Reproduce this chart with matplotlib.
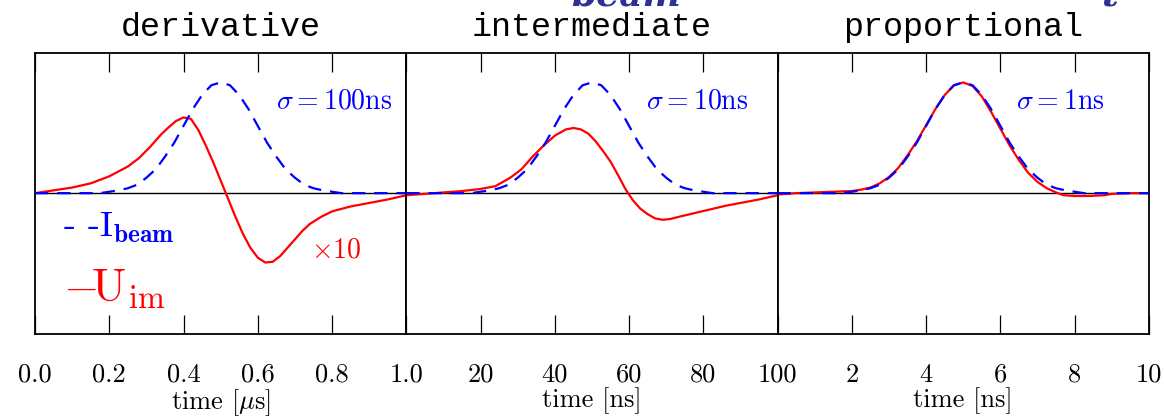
import matplotlib.pyplot as plt

plt.rcParams['mathtext.fontset'] = 'cm'
plt.rcParams['font.family'] = ['cmr10', 'DejaVu Serif']
plt.rcParams['axes.unicode_minus'] = False

# beam current, same shape in every window (time as fraction of window)
beam_frac = [0.0, 0.025, 0.05, 0.075, 0.1, 0.125, 0.15, 0.175, 0.2, 0.225,
             0.25, 0.275, 0.3, 0.325, 0.35, 0.375, 0.4, 0.425, 0.45, 0.475,
             0.5, 0.525, 0.55, 0.575, 0.6, 0.625, 0.65, 0.675, 0.7, 0.725,
             0.75, 0.775, 0.8, 0.825, 0.85, 0.875, 0.9, 0.925, 0.95, 0.975, 1.0]
beam_i = [0, 0, 0, 0, 0, 0, 0, 0, 0.01, 0.02,
          0.035, 0.06, 0.11, 0.17, 0.26, 0.36, 0.48, 0.60, 0.70, 0.77,
          0.79, 0.77, 0.70, 0.60, 0.48, 0.36, 0.26, 0.17, 0.11, 0.06,
          0.035, 0.02, 0.01, 0, 0, 0, 0, 0, 0, 0, 0]

# image-current monitor voltage, sigma = 100 ns (x10), time in us
u1_t = [0.00, 0.05, 0.10, 0.15, 0.20, 0.25, 0.28, 0.31, 0.34, 0.36, 0.38, 0.40,
        0.42, 0.44, 0.46, 0.48, 0.50, 0.52, 0.54, 0.56, 0.58, 0.60, 0.62, 0.64,
        0.66, 0.68, 0.70, 0.72, 0.74, 0.77, 0.80, 0.85, 0.90, 0.95, 1.00]
u1 = [0.00, 0.02, 0.04, 0.07, 0.12, 0.19, 0.25, 0.33, 0.42, 0.47, 0.515, 0.54,
      0.53, 0.45, 0.34, 0.22, 0.09, -0.04, -0.17, -0.29, -0.39, -0.46, -0.495, -0.49,
      -0.45, -0.39, -0.33, -0.27, -0.22, -0.17, -0.13, -0.095, -0.07, -0.045, -0.015]

# sigma = 10 ns, time in ns
u2_t = [0, 5, 10, 15, 20, 24, 28, 31, 34, 37, 40, 43, 45, 47, 49, 51, 53, 55,
        57, 59, 61, 63, 65, 67, 69, 71, 74, 78, 82, 86, 90, 95, 100]
u2 = [-0.015, -0.005, 0.005, 0.015, 0.03, 0.05, 0.11, 0.17, 0.26, 0.34, 0.41, 0.455,
      0.465, 0.455, 0.425, 0.37, 0.30, 0.225, 0.13, 0.03, -0.05, -0.11, -0.15, -0.18,
      -0.19, -0.185, -0.165, -0.14, -0.115, -0.09, -0.07, -0.045, -0.015]

# sigma = 1 ns, time in ns
u3_t = [0, 0.5, 1, 1.5, 2, 2.25, 2.5, 2.75, 3, 3.25, 3.5, 3.75, 4, 4.25, 4.5,
        4.75, 5, 5.25, 5.5, 5.75, 6, 6.25, 6.5, 6.75, 7, 7.25, 7.5, 7.7, 8,
        8.4, 8.8, 9, 9.5, 10]
u3 = [-0.01, 0.0, 0.005, 0.01, 0.015, 0.025, 0.04, 0.07, 0.115, 0.18, 0.27, 0.37,
      0.485, 0.60, 0.70, 0.77, 0.79, 0.765, 0.69, 0.58, 0.46, 0.34, 0.235, 0.145,
      0.08, 0.035, 0.005, -0.015, -0.02, -0.02, -0.015, -0.005, 0.0, 0.0]

titles = ["derivative", "intermediate", "proportional"]
spans = [1.0, 100.0, 10.0]
sigma_txt = [r"$\sigma=100$ns", r"$\sigma=10$ns", r"$\sigma=1$ns"]
sigma_x = [0.806, 0.783, 0.761]
xlabels = [r"time [$\mu$s]", "time [ns]", "time [ns]"]
ticks = [[0, 0.2, 0.4, 0.6, 0.8, 1.0], [0, 20, 40, 60, 80, 100], [0, 2, 4, 6, 8, 10]]
ticklabels = [["0.0", "0.2", "0.4", "0.6", "0.8", "1.0"],
              ["", "20", "40", "60", "80", "100"],
              ["", "2", "4", "6", "8", "10"]]
u_t = [u1_t, u2_t, u3_t]
u_v = [u1, u2, u3]

fig = plt.figure(figsize=(11.64, 4.17), dpi=100)

left = 35 / 1164
width = 371.3 / 1164
bottom = 83 / 417
height = 281 / 417

axes = []
for k in range(3):
    ax = fig.add_axes([left + k * width, bottom, width, height])
    axes.append(ax)
    ax.axhline(0, color="black", lw=1.0, zorder=1)
    ax.plot([f * spans[k] for f in beam_frac], beam_i, color="blue", lw=1.6,
            linestyle=(0, (6, 4)), zorder=3)
    ax.plot(u_t[k], u_v[k], color="red", lw=1.6, zorder=2)
    ax.set_xlim(0, spans[k])
    ax.set_ylim(-1.005, 1.0)
    ax.set_yticks([])
    ax.set_xticks(ticks[k], ticklabels[k], fontsize=19)
    ax.tick_params(axis="x", direction="in", top=True, bottom=True, length=13.5,
                   width=0.9, pad=21, labeltop=False)
    for s in ax.spines.values():
        s.set_linewidth(1.3)
    ax.set_title(titles[k], fontfamily="Liberation Mono", fontsize=24, pad=12)
    ax.set_xlabel(xlabels[k], fontsize=19, labelpad=0)
    ax.text(sigma_x[k], 0.827, sigma_txt[k], color="blue", fontsize=20,
            ha="center", va="center", transform=ax.transAxes)

ax1 = axes[0]
ax1.text(0.81, -0.41, r"$\times10$", color="red", fontsize=20, ha="center", va="center")
ax1.text(0.075, 0.345, r"- -$\mathrm{I}_{\mathbf{beam}}$", color="blue", fontsize=26,
         ha="left", va="baseline", transform=ax1.transAxes)
ax1.text(0.075, 0.115, r"$-\!\mathrm{U}_{\mathrm{im}}$", color="red", fontsize=33,
         ha="left", va="baseline", transform=ax1.transAxes)

# remains of the slide heading, cut by the top edge
fig.text(626 / 1164, 411 / 417, "beam", fontfamily="DejaVu Serif", fontweight="bold",
         fontstyle="italic", fontsize=26, color="#2e3192", ha="center", va="baseline")
fig.text(1110 / 1164, 411 / 417, "t", fontfamily="DejaVu Serif", fontweight="bold",
         fontstyle="italic", fontsize=26, color="#2e3192", ha="center", va="baseline")

fig.savefig("out.png", dpi=100)
